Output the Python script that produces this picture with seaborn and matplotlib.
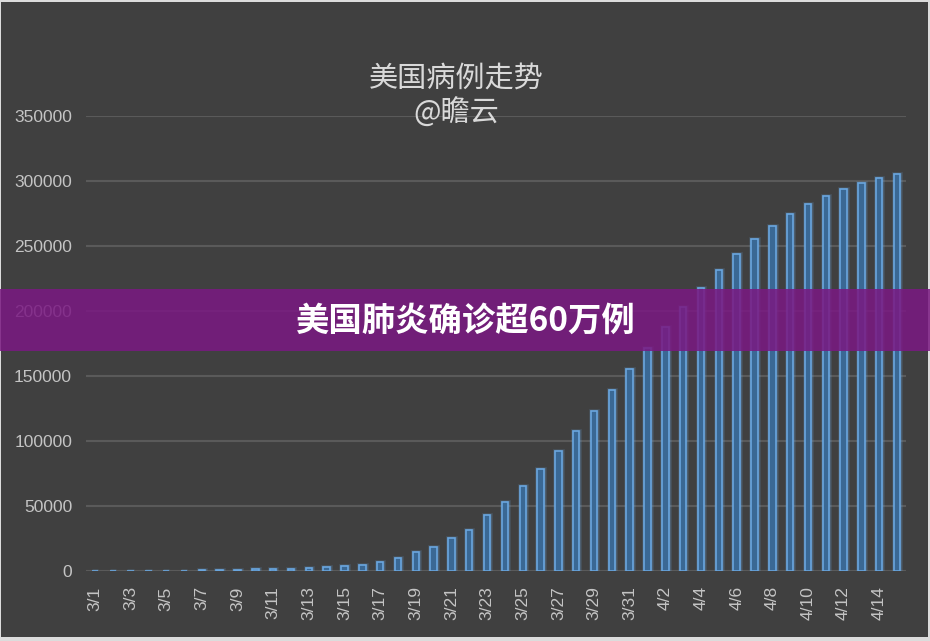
"""
US confirmed cases trend (美国病例走势) - dark-themed bar chart with banner overlay.
"""

import pandas as pd
import matplotlib.pyplot as plt
import matplotlib.patheffects as pe
from matplotlib.patches import Rectangle
import seaborn as sns

DATES = ['3/1', '3/2', '3/3', '3/4', '3/5', '3/6', '3/7', '3/8', '3/9', '3/10',
         '3/11', '3/12', '3/13', '3/14', '3/15', '3/16', '3/17', '3/18', '3/19',
         '3/20', '3/21', '3/22', '3/23', '3/24', '3/25', '3/26', '3/27', '3/28',
         '3/29', '3/30', '3/31', '4/1', '4/2', '4/3', '4/4', '4/5', '4/6', '4/7',
         '4/8', '4/9', '4/10', '4/11', '4/12', '4/13', '4/14', '4/15']
CASES = [90, 100, 120, 160, 220, 320, 440, 1000, 1100, 1300,
         1400, 1600, 2000, 2800, 3600, 4600, 6900, 9800, 14400,
         18500, 25100, 31300, 42800, 52800, 65100, 78200, 92000, 107400,
         122800, 139100, 155300, 171700, 187300, 203000, 217600, 231400, 243500, 255000,
         265000, 274500, 282100, 288300, 293400, 298300, 301900, 305200]
Y_TICKS = [0, 50000, 100000, 150000, 200000, 250000, 300000, 350000]

TITLE = '美国病例走势\n@瞻云'
BANNER = '美国肺炎确诊超60万例'

BG = '#404040'
TEXT = '#c4c4c4'
GRID = '#5a5a5a'
BAR_FACE = '#3a6894'
BAR_EDGE = '#6aa6df'


def main():
    df = pd.DataFrame({'date': DATES, 'cases': CASES})

    sns.set_style('dark')
    plt.rcParams['font.family'] = ['Noto Sans CJK SC', 'DejaVu Sans']

    fig = plt.figure(figsize=(9.3, 6.41), dpi=100)
    fig.patch.set_facecolor('#dcdcdc')
    # dark card inside thin light frame
    fig.patches.append(Rectangle((1 / 930, 4 / 641), 927 / 930, 635 / 641,
                                 transform=fig.transFigure, facecolor=BG,
                                 edgecolor='none', zorder=-1))

    ax = fig.add_axes([86 / 930, 1 - 571 / 641, 820 / 930, 455.3 / 641])
    ax.set_facecolor('none')

    sns.barplot(x='date', y='cases', data=df, ax=ax, color=BAR_FACE,
                saturation=1.0, width=0.36, edgecolor=BAR_EDGE, linewidth=1.2)

    glow = [pe.Stroke(linewidth=3.6, foreground=BAR_EDGE, alpha=0.12),
            pe.Stroke(linewidth=2.4, foreground=BAR_EDGE, alpha=0.22),
            pe.Normal()]
    for p in ax.patches:
        p.set_path_effects(glow)
        p.set_zorder(3)

    ax.set_ylim(0, 350000)
    ax.set_yticks(Y_TICKS)
    ax.set_yticklabels([str(v) for v in Y_TICKS], family='Liberation Sans',
                       fontsize=12.5, color=TEXT)
    ax.set_xticks(range(0, len(DATES), 2))
    ax.set_xticklabels(DATES[::2], rotation=90, family='Liberation Sans',
                       fontsize=12.5, color=TEXT)
    ax.tick_params(axis='both', length=0)
    ax.tick_params(axis='y', pad=10)
    ax.tick_params(axis='x', pad=11)
    ax.set_xlabel('')
    ax.set_ylabel('')

    ax.yaxis.grid(True, color=GRID, linewidth=1.5)
    ax.xaxis.grid(False)
    ax.set_axisbelow(True)
    for s in ax.spines.values():
        s.set_visible(False)

    fig.text(0.491, 1 - 96 / 641, TITLE, ha='center', va='center',
             fontsize=21, color='#d9d9d9', linespacing=1.25)

    # purple banner across the middle
    fig.patches.append(Rectangle((0, 1 - 351 / 641), 1, 62 / 641,
                                 transform=fig.transFigure, facecolor='#7a1982',
                                 alpha=0.86, edgecolor='none', zorder=5))
    fig.text(0.5, 1 - 321 / 641, BANNER, ha='center', va='center',
             fontsize=24, fontweight='black', color='white', zorder=6)

    fig.savefig('out.png', dpi=100, facecolor=fig.get_facecolor())
    plt.close()


if __name__ == '__main__':
    main()
